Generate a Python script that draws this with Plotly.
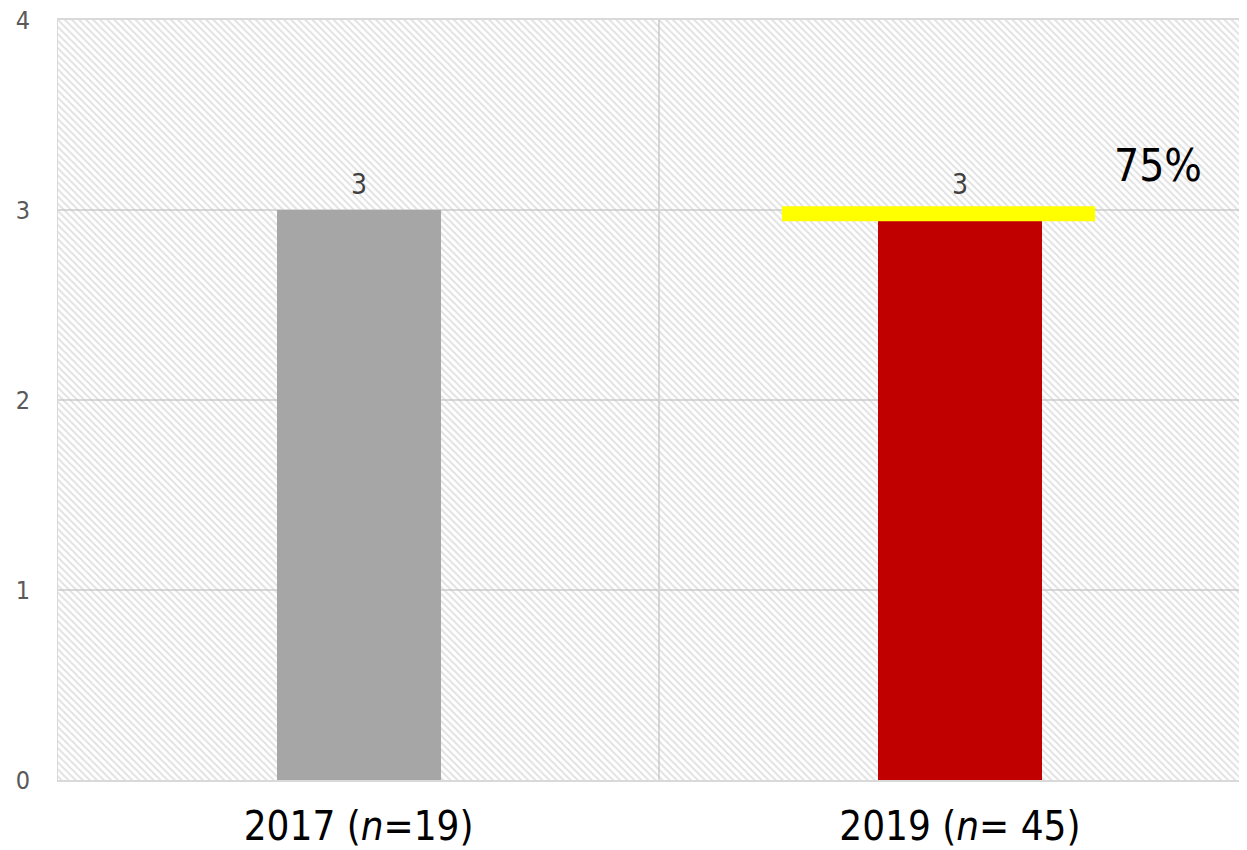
import plotly.graph_objects as go

categories = ["2017 (<i>n</i>=19)", "2019 (<i>n</i>= 45)"]
values = [3, 3]
bar_colors = ["#a6a6a6", "#c00000"]
label_texts = ["3", "3"]
y_max = 4
target_value = 3
target_label = "75%"

FONT = "Liberation Sans Narrow, DejaVu Sans Condensed, Arial Narrow, sans-serif"

fig = go.Figure()

# hatched plot-area background
fig.add_trace(go.Bar(
    x=categories, y=[y_max] * len(categories), width=1,
    marker=dict(color="rgba(0,0,0,0)", line=dict(width=0),
                pattern=dict(shape="\\", fgcolor="#c4c4c4", bgcolor="rgba(0,0,0,0)",
                             size=5, solidity=0.4)),
    hoverinfo="skip", showlegend=False,
))

fig.add_trace(go.Bar(
    x=categories, y=values, width=0.273,
    marker=dict(color=bar_colors, line=dict(width=0)),
    showlegend=False,
))

for c, v, t in zip(categories, values, label_texts):
    fig.add_annotation(x=c, y=v, text=t, showarrow=False, yanchor="bottom",
                       yshift=7, font=dict(family=FONT, size=28, color="#404040"))

# target line
fig.add_shape(type="line", xref="x", yref="y", x0=0.704, x1=1.225,
              y0=target_value - 0.02, y1=target_value - 0.02,
              line=dict(color="#ffff00", width=15))
fig.add_annotation(x=1.253, y=target_value, text=target_label, showarrow=False,
                   xanchor="left", yanchor="bottom", yshift=17,
                   font=dict(family=FONT, size=44, color="#000000"))

fig.update_layout(
    width=1239, height=842,
    margin=dict(l=50, r=0, t=12, b=70),
    paper_bgcolor="white", plot_bgcolor="white",
    barmode="overlay", bargap=0,
    xaxis=dict(range=[-0.5, 1.4775], tickson="boundaries", showgrid=True,
               gridcolor="#d9d9d9", gridwidth=1.5, ticks="",
               showline=True, linecolor="#d9d9d9", linewidth=2, mirror=True,
               tickfont=dict(family=FONT, size=40, color="#000000"),
               ticklabelstandoff=10, zeroline=False, automargin=False),
    yaxis=dict(range=[0, y_max], dtick=1, showgrid=True, gridcolor="#d9d9d9",
               gridwidth=1.5, zeroline=False, ticks="",
               showline=True, linecolor="#d9d9d9", mirror=False,
               tickfont=dict(family=FONT, size=25, color="#595959"),
               ticklabelstandoff=22, ticklabeloverflow="allow", automargin=False),
)

fig.write_html("out.html")
